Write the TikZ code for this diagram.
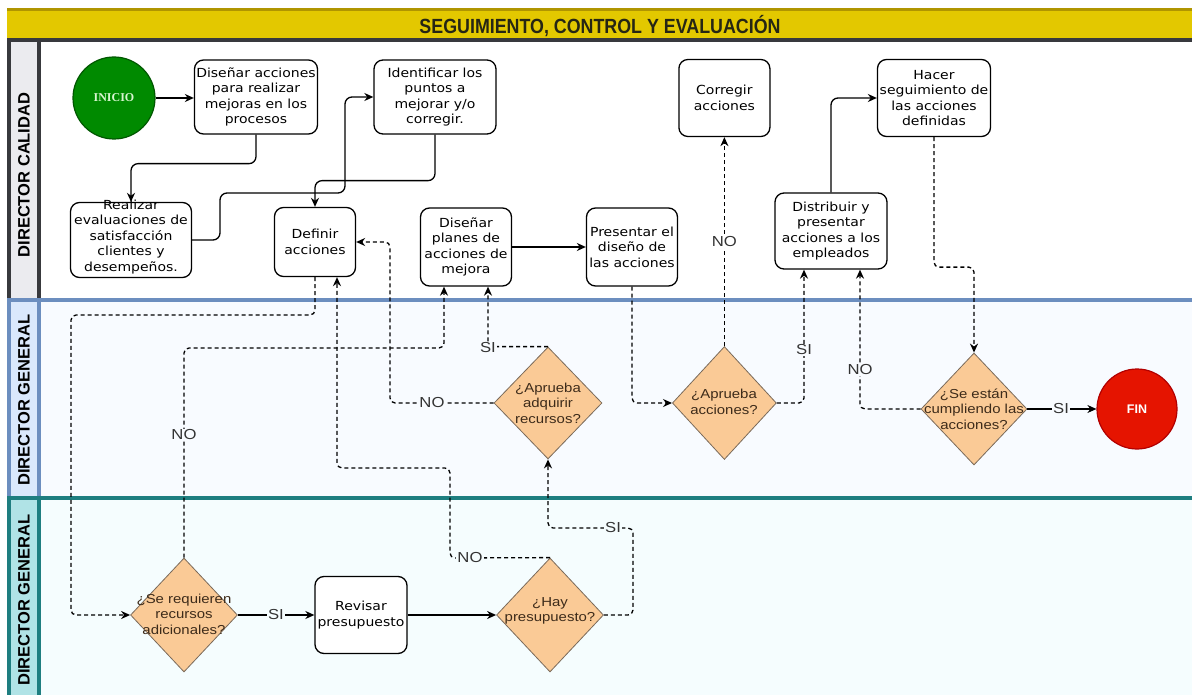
\documentclass[tikz,border=0pt]{standalone}
\usepackage{fontspec}
\setmainfont{Liberation Sans}
\newfontfamily\boxfont[FakeStretch=1.12]{DejaVu Sans}
\newfontfamily\diafont[FakeStretch=1.15]{Liberation Sans}
\newfontfamily\titlefont[FakeStretch=0.87]{Liberation Sans}
\newfontfamily\inifont{Liberation Serif}
\usetikzlibrary{shapes.geometric,arrows.meta}
\definecolor{hdrfill}{HTML}{E3C800}
\definecolor{hdrline}{HTML}{B09500}
\definecolor{titletxt}{HTML}{262614}
\definecolor{laneone}{HTML}{38393D}
\definecolor{labone}{HTML}{EBEBEF}
\definecolor{lanetwo}{HTML}{6C8EBF}
\definecolor{labtwo}{HTML}{DAE8FC}
\definecolor{bgtwo}{HTML}{F8FBFF}
\definecolor{lanethree}{HTML}{1E7E80}
\definecolor{labthree}{HTML}{B0E3E6}
\definecolor{bgthree}{HTML}{F5FDFE}
\definecolor{diafill}{HTML}{FACA96}
\definecolor{diastroke}{HTML}{7A6A5A}
\definecolor{diatxt}{HTML}{3D2B1A}
\definecolor{inifill}{HTML}{008A00}
\definecolor{inistroke}{HTML}{005700}
\definecolor{initxt}{HTML}{D8F5D0}
\definecolor{finfill}{HTML}{E51400}
\definecolor{finstroke}{HTML}{B20000}
\definecolor{lbltxt}{HTML}{333333}
\begin{document}
\begin{tikzpicture}[x=1pt,y=-1pt,
  box/.style={draw=black, line width=1.3pt, rounded corners=9pt, fill=white, align=center, inner sep=0pt, font=\boxfont\fontsize{12.5}{15.5}\selectfont},
  boxtext/.style={align=center, inner sep=0pt, font=\boxfont\fontsize{12.5}{15.5}\selectfont},
  dia/.style={diamond, draw=diastroke, line width=0.8pt, fill=diafill, inner sep=0pt},
  diatext/.style={align=center, inner sep=0pt, text=diatxt, font=\diafont\fontsize{13}{15.5}\selectfont},
  startc/.style={circle, draw=inistroke, line width=1.2pt, fill=inifill, text=initxt, minimum size=82pt, inner sep=0pt, font=\inifont\bfseries\fontsize{12}{12}\selectfont},
  endc/.style={circle, draw=finstroke, line width=1.2pt, fill=finfill, text=white, minimum size=80pt, inner sep=0pt, font=\bfseries\fontsize{12.5}{12.5}\selectfont},
  sarrow/.style={draw=black, line width=1.3pt, rounded corners=7pt, -{Stealth[length=9pt,width=8pt]}},
  darrow/.style={draw=black, line width=1.3pt, dash pattern=on 4pt off 3pt, rounded corners=5pt, -{Stealth[length=9pt,width=8pt]}},
  lbl/.style={inner sep=1pt, text=lbltxt, font=\diafont\fontsize{14.5}{14.5}\selectfont},
  lanelbl/.style={rotate=90, font=\bfseries\fontsize{16.5}{16.5}\selectfont}
]
\useasboundingbox (0,0) rectangle (1192,695);
% backgrounds
\fill[bgthree] (39,498) rectangle (1192,695);
\fill[bgtwo] (39,300) rectangle (1192,498);
\fill[labone] (9,40) rectangle (39,300);
\fill[labtwo] (9,300) rectangle (39,498);
\fill[labthree] (9,498) rectangle (39,695);
% header
\fill[hdrfill] (7,9) rectangle (1192,39);
\draw[hdrline, line width=3pt] (7,9.5) -- (1192,9.5);
\node[font=\titlefont\bfseries\fontsize{20.5}{20.5}\selectfont, text=titletxt, inner sep=0pt] (title) at (600,26) {SEGUIMIENTO, CONTROL Y EVALUACIÓN};
% lane borders
\draw[laneone, line width=4pt] (7,40) -- (1192,40);
\draw[laneone, line width=4pt] (9,40) -- (9,300);
\draw[laneone, line width=4pt] (39,40) -- (39,300);
\draw[lanetwo, line width=4pt] (9,300) -- (9,498);
\draw[lanetwo, line width=4pt] (39,300) -- (39,498);
\draw[lanetwo, line width=4pt] (7,300) -- (1192,300);
\draw[lanethree, line width=4pt] (9,498) -- (9,695);
\draw[lanethree, line width=4pt] (39,498) -- (39,695);
\draw[lanethree, line width=4pt] (7,498) -- (1192,498);
\node[lanelbl] (lane1) at (24,175) {DIRECTOR CALIDAD};
\node[lanelbl] (lane2) at (24,400) {DIRECTOR GENERAL};
\node[lanelbl] (lane3) at (24,600) {DIRECTOR GENERAL};
% nodes
\node[startc] (ini) at (114,98) {INICIO};
\node[box, minimum width=123pt, minimum height=74pt] (b1) at (256,97) {Diseñar acciones\\para realizar\\mejoras en los\\procesos};
\node[box, minimum width=122pt, minimum height=74pt] (b2) at (435,97) {Identificar los\\puntos a\\mejorar y/o\\corregir.};
\node[box, minimum width=121pt, minimum height=75pt] (b3) at (131,240) {};
\node[boxtext] (b3t) at (131,237) {Realizar\\evaluaciones de\\satisfacción\\clientes y\\desempeños.};
\node[box, minimum width=81pt, minimum height=69pt] (b4) at (315,242) {Definir\\acciones};
\node[box, minimum width=91pt, minimum height=78pt] (b5) at (466,247) {Diseñar\\planes de\\acciones de\\mejora};
\node[box, minimum width=91pt, minimum height=78pt] (b6) at (632,247) {Presentar el\\diseño de\\las acciones};
\node[box, minimum width=91pt, minimum height=77pt] (b7) at (724.4,98) {Corregir\\acciones};
\node[box, minimum width=112pt, minimum height=76pt] (b8) at (831,231) {Distribuir y\\presentar\\acciones a los\\empleados};
\node[box, minimum width=113pt, minimum height=77pt] (b9) at (934,98) {Hacer\\seguimiento de\\las acciones\\definidas};
\node[box, minimum width=92pt, minimum height=77pt] (b10) at (361,615) {Revisar\\presupuesto};
\node[dia, minimum width=108pt, minimum height=112pt] (d1) at (548,403) {};
\node[diatext] (d1t) at (548,403) {¿Aprueba\\adquirir\\recursos?};
\node[dia, minimum width=104pt, minimum height=113pt] (d2) at (724.4,403) {};
\node[diatext] (d2t) at (724,402) {¿Aprueba\\acciones?};
\node[dia, minimum width=106pt, minimum height=112pt] (d3) at (974,409) {};
\node[diatext] (d3t) at (974,409) {¿Se están\\cumpliendo las\\acciones?};
\node[dia, minimum width=107pt, minimum height=114pt] (d4) at (184,615) {};
\node[diatext] (d4t) at (184,614) {¿Se requieren\\recursos\\adicionales?};
\node[dia, minimum width=107pt, minimum height=114pt] (d5) at (550,615) {};
\node[diatext] (d5t) at (550,611) {¿Hay\\presupuesto?};
\node[endc] (fin) at (1137,409) {FIN};
% solid connectors
\draw[sarrow] (ini.east) -- (ini.east -| b1.west);
\draw[sarrow] (b1.south) -- ++(0,29) -| (b3.north);
\draw[sarrow] (b3.east) -- (220,240) -- (220,193) -- (345,193) |- (b2.west);
\draw[sarrow] (b2.south) -- ++(0,46) -| (b4.north);
\draw[sarrow] (b5.east) -- (b6.west);
\draw[sarrow] (b8.north) |- (b9.west);
\draw[sarrow] (d3.east) -- (fin.west);
\draw[sarrow] (d4.east) -- (b10.west);
\draw[sarrow] (b10.east) -- (d5.west);
% dashed connectors
\draw[darrow] (b6.south) |- (d2.west);
\draw[darrow] (d2.north) -- (b7.south);
\draw[darrow] (d2.east) -| ([xshift=-27pt]b8.south);
\draw[darrow] (d3.west) -| ([xshift=29pt]b8.south);
\draw[darrow] (b9.south) -- ++(0,130) -| (d3.north);
\draw[darrow] (d4.north) -- (184,348) -| ([xshift=-22pt]b5.south);
\draw[darrow] (b4.south) -- (315,315) -- (71,315) |- (d4.west);
\draw[darrow] (d1.west) -- (390,403) |- (b4.east);
\draw[darrow] (d1.north) -| ([xshift=22pt]b5.south);
\draw[darrow] (d5.north) -- (450,558) -- (450,468) -| ([xshift=22pt]b4.south);
\draw[darrow] (d5.east) -- (633,615) -- (633,528) -| (d1.south);
% labels
\node[lbl, fill=white] (l1) at (724.4,242) {NO};
\node[lbl, fill=bgtwo] (l2) at (804,350) {SI};
\node[lbl, fill=bgtwo] (l3) at (860,370) {NO};
\node[lbl, fill=bgtwo] (l4) at (1061,409) {SI};
\node[lbl, fill=bgthree] (l5) at (276,615) {SI};
\node[lbl, fill=bgtwo] (l6) at (184,435) {NO};
\node[lbl, fill=bgtwo] (l7) at (432,403) {NO};
\node[lbl, fill=bgtwo] (l8) at (488,348) {SI};
\node[lbl, fill=bgthree] (l9) at (470,558) {NO};
\node[lbl, fill=bgthree] (l10) at (613,528) {SI};
\end{tikzpicture}
\end{document}
